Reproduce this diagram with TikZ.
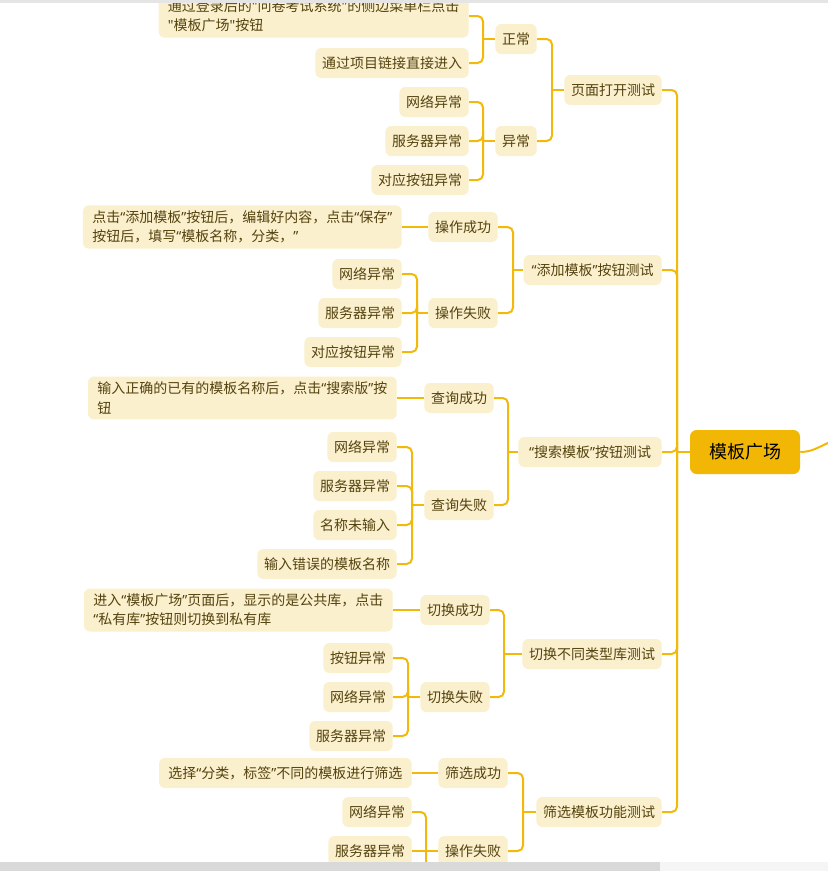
\documentclass[tikz,border=0pt]{standalone}
\usepackage{fontspec}
\setmainfont{Noto Sans CJK SC}
\newfontfamily\latinq{Noto Sans}
\newcommand{\myqo}{{\latinq “}}
\newcommand{\myqc}{{\latinq ”}}
\newcommand{\myqs}{{\latinq "}}
\definecolor{nodefill}{HTML}{FBF0CD}
\definecolor{txt}{HTML}{54430F}
\definecolor{lne}{HTML}{F2B80A}
\definecolor{rootfill}{HTML}{F2B705}
\tikzset{
  leaf/.style={fill=nodefill, rounded corners=4.5pt, inner xsep=5pt, inner ysep=4pt,
    minimum height=22.5pt, text=txt, font=\fontsize{10.5}{14.5}\selectfont, anchor=east, align=left},
  wide/.style={inner xsep=7pt},
  conn/.style={draw=lne, line width=1.5pt, rounded corners=4pt},
  rootbox/.style={fill=rootfill, rounded corners=5pt, minimum width=82.5pt, minimum height=33pt,
    text=black, font=\fontsize{13.5}{16}\selectfont}
}
\begin{document}
\begin{tikzpicture}[x=0.75pt,y=-0.75pt]
\useasboundingbox (0,0) rectangle (828,871);
\fill[white] (0,0) rectangle (828,871);
\clip (0,0) rectangle (828,871);

% root
\node[rootbox] (root) at (745,452) {模板广场};

% level 1
\node[leaf] (L1) at (662,90) {页面打开测试};
\node[leaf,inner xsep=6pt] (L2) at (662,270) {\myqo 添加模板\myqc 按钮测试};
\node[leaf,inner xsep=8pt] (L3) at (662,452) {\myqo 搜索模板\myqc 按钮测试};
\node[leaf] (L4) at (662,654) {切换不同类型库测试};
\node[leaf] (L5) at (662,812) {筛选模板功能测试};

% level 2
\node[leaf] (A) at (537,39) {正常};
\node[leaf] (B) at (537,141) {异常};
\node[leaf] (C) at (498,227) {操作成功};
\node[leaf] (D) at (498,313) {操作失败};
\node[leaf] (E) at (494,398) {查询成功};
\node[leaf] (F) at (494,505) {查询失败};
\node[leaf] (G) at (490,610) {切换成功};
\node[leaf] (H) at (490,697) {切换失败};
\node[leaf] (I) at (508,773) {筛选成功};
\node[leaf] (K) at (508,851) {操作失败};

% level 3
\node[leaf,wide] (a1) at (469,16) {通过登录后的\myqs 问卷考试系统\myqs 的侧边菜单栏点击\\\myqs 模板广场\myqs 按钮};
\node[leaf] (a2) at (469,63) {通过项目链接直接进入};
\node[leaf] (b1) at (469,102) {网络异常};
\node[leaf] (b2) at (469,141) {服务器异常};
\node[leaf] (b3) at (469,180) {对应按钮异常};
\node[leaf,wide] (c1) at (402,227) {点击\myqo 添加模板\myqc 按钮后，编辑好内容，点击\myqo 保存\myqc\\按钮后，填写\myqo 模板名称，分类，\myqc};
\node[leaf] (d1) at (402,274) {网络异常};
\node[leaf] (d2) at (402,313) {服务器异常};
\node[leaf] (d3) at (402,352) {对应按钮异常};
\node[leaf,wide] (e1) at (397,398) {输入正确的已有的模板名称后，点击\myqo 搜索版\myqc 按\\钮};
\node[leaf] (f1) at (397,447) {网络异常};
\node[leaf] (f2) at (397,486) {服务器异常};
\node[leaf] (f3) at (397,525) {名称未输入};
\node[leaf] (f4) at (397,564) {输入错误的模板名称};
\node[leaf,wide] (g1) at (393,610) {进入\myqo 模板广场\myqc 页面后，显示的是公共库，点击\\\myqo 私有库\myqc 按钮则切换到私有库};
\node[leaf] (h1) at (393,658) {按钮异常};
\node[leaf] (h2) at (393,697) {网络异常};
\node[leaf] (h3) at (393,736) {服务器异常};
\node[leaf,wide] (i1) at (412,773) {选择\myqo 分类，标签\myqc 不同的模板进行筛选};
\node[leaf] (k1) at (412,812) {网络异常};
\node[leaf] (k2) at (412,851) {服务器异常};

% junctions
\coordinate (j0) at (677,452);
\coordinate (jL1) at (552,90);
\coordinate (jL2) at (513,270);
\coordinate (jL3) at (508,452);
\coordinate (jL4) at (504,654);
\coordinate (jL5) at (523,812);
\coordinate (jA) at (483,39);
\coordinate (jB) at (483,141);
\coordinate (jD) at (417,313);
\coordinate (jF) at (412,505);
\coordinate (jH) at (408,697);
\coordinate (jKend) at (426,885);
\coordinate (tail) at (834,441);

% trunk
\foreach \n in {L1,L2,L3,L4,L5} \draw[conn] (\n.east) -| (j0);
\draw[conn] (j0) -- (root.west);
\draw[conn] (root.east) .. controls (815,452) and (822,444) .. (tail);

% level 1 -> level 2
\foreach \c in {A,B} \draw[conn] (\c.east) -| (jL1);
\draw[conn] (jL1) -- (L1.west);
\foreach \c in {C,D} \draw[conn] (\c.east) -| (jL2);
\draw[conn] (jL2) -- (L2.west);
\foreach \c in {E,F} \draw[conn] (\c.east) -| (jL3);
\draw[conn] (jL3) -- (L3.west);
\foreach \c in {G,H} \draw[conn] (\c.east) -| (jL4);
\draw[conn] (jL4) -- (L4.west);
\foreach \c in {I,K} \draw[conn] (\c.east) -| (jL5);
\draw[conn] (jL5) -- (L5.west);

% level 2 -> level 3
\foreach \c in {a1,a2} \draw[conn] (\c.east) -| (jA);
\draw[conn] (jA) -- (A.west);
\foreach \c in {b1,b2,b3} \draw[conn] (\c.east) -| (jB);
\draw[conn] (jB) -- (B.west);
\draw[conn] (c1.east) -- (C.west);
\foreach \c in {d1,d2,d3} \draw[conn] (\c.east) -| (jD);
\draw[conn] (jD) -- (D.west);
\draw[conn] (e1.east) -- (E.west);
\foreach \c in {f1,f2,f3,f4} \draw[conn] (\c.east) -| (jF);
\draw[conn] (jF) -- (F.west);
\draw[conn] (g1.east) -- (G.west);
\foreach \c in {h1,h2,h3} \draw[conn] (\c.east) -| (jH);
\draw[conn] (jH) -- (H.west);
\draw[conn] (i1.east) -- (I.west);
\draw[conn] (k1.east) -| (jKend);
\draw[conn] (k2.east) -- (K.west);

% window chrome
\fill[black!10] (0,0) rectangle (828,2.5);
\fill[black!15] (0,862) rectangle (660,871);
\fill[black!4] (660,862) rectangle (828,871);
\end{tikzpicture}
\end{document}
